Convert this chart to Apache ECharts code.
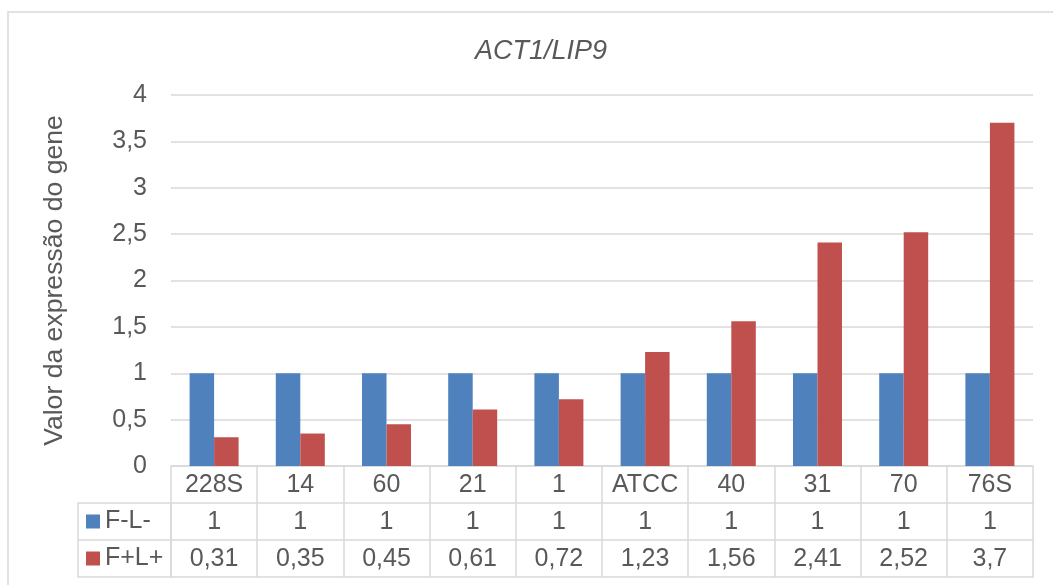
<!DOCTYPE html>
<html>
<head>
<meta charset="utf-8">
<script src="https://cdn.jsdelivr.net/npm/echarts@6/dist/echarts.min.js"></script>
<style>
html,body{margin:0;padding:0;background:#fff;}
#chart{width:1053px;height:585px;}
</style>
</head>
<body>
<div id="chart"></div>
<script>
const categories = ['228S','14','60','21','1','ATCC','40','31','70','76S'];
const seriesNames = ['F-L-','F+L+'];
const valuesFLminus = [1,1,1,1,1,1,1,1,1,1];
const valuesFLplus = [0.31,0.35,0.45,0.61,0.72,1.23,1.56,2.41,2.52,3.7];
const yMin = 0, yMax = 4, yInterval = 0.5;
const titleText = 'ACT1/LIP9';
const yAxisTitle = 'Valor da expressão do gene';

const FONT = '"Liberation Sans", Arial, sans-serif';
const TXT = '#595959';
const LINE = '#d9d9d9';
const BLUE = '#4F81BD';
const RED = '#C0504D';
const fmt = v => String(v).replace('.', ',');

const ROW = 37;
function tableAxis(offset, formatter, showLabel, showTicks) {
  return {
    type: 'category',
    data: categories,
    position: 'bottom',
    offset: offset,
    boundaryGap: true,
    axisLine: { show: true, lineStyle: { color: LINE, width: 1.5 } },
    axisTick: { show: showTicks, inside: false, length: ROW, alignWithLabel: false, interval: 0, lineStyle: { color: LINE, width: 1.5 } },
    axisLabel: { show: showLabel, interval: 0, margin: 7, color: TXT, fontSize: 25, fontFamily: FONT, lineHeight: 25, formatter: formatter },
    splitLine: { show: false }
  };
}

const chart = echarts.init(document.getElementById('chart'), null, { renderer: 'canvas' });
chart.setOption({
  animation: false,
  backgroundColor: '#fff',
  title: {
    text: titleText,
    left: 536, top: 33, textAlign: 'center',
    textStyle: { fontFamily: FONT, fontSize: 27, fontStyle: 'italic', fontWeight: 'normal', color: TXT }
  },
  legend: {
    orient: 'vertical',
    left: 86, top: 509,
    padding: 0,
    itemGap: 12,
    itemWidth: 14, itemHeight: 14,
    icon: 'rect',
    selectedMode: false,
    data: seriesNames,
    textStyle: { fontFamily: FONT, fontSize: 25, color: TXT, lineHeight: 25 }
  },
  grid: { left: 171, right: 20, top: 95, bottom: 119, containLabel: false },
  xAxis: [
    tableAxis(0, v => v, true, true),
    tableAxis(ROW, (v, i) => fmt(valuesFLminus[i]), true, true),
    tableAxis(ROW * 2, (v, i) => fmt(valuesFLplus[i]), true, true),
    tableAxis(ROW * 3, v => '', false, false)
  ],
  yAxis: {
    type: 'value',
    min: yMin, max: yMax, interval: yInterval,
    name: yAxisTitle,
    nameLocation: 'middle',
    nameRotate: 90,
    nameGap: 103,
    nameTextStyle: { fontFamily: FONT, fontSize: 26.6, color: TXT },
    axisLine: { show: false },
    axisTick: { show: false },
    axisLabel: { margin: 24, color: TXT, fontSize: 25, fontFamily: FONT, formatter: v => fmt(v) },
    splitLine: { lineStyle: { color: LINE, width: 1.5 } }
  },
  graphic: [
    { type: 'rect', shape: { x: 8, y: 12, width: 1100, height: 620 }, style: { fill: 'none', stroke: LINE, lineWidth: 1.5 }, z: -10, silent: true },
    { type: 'rect', shape: { x: 78, y: 466 + ROW, width: 93, height: ROW * 2 }, style: { fill: 'none', stroke: LINE, lineWidth: 1.5 }, silent: true },
    { type: 'line', shape: { x1: 78, y1: 466 + ROW * 2, x2: 171, y2: 466 + ROW * 2 }, style: { stroke: LINE, lineWidth: 1.5 }, silent: true }
  ],
  series: [
    { name: seriesNames[0], type: 'bar', xAxisIndex: 0, data: valuesFLminus, barWidth: 24.5, barGap: '0%', itemStyle: { color: BLUE } },
    { name: seriesNames[1], type: 'bar', xAxisIndex: 0, data: valuesFLplus, barWidth: 24.5, barGap: '0%', itemStyle: { color: RED } }
  ]
});
</script>
</body>
</html>
